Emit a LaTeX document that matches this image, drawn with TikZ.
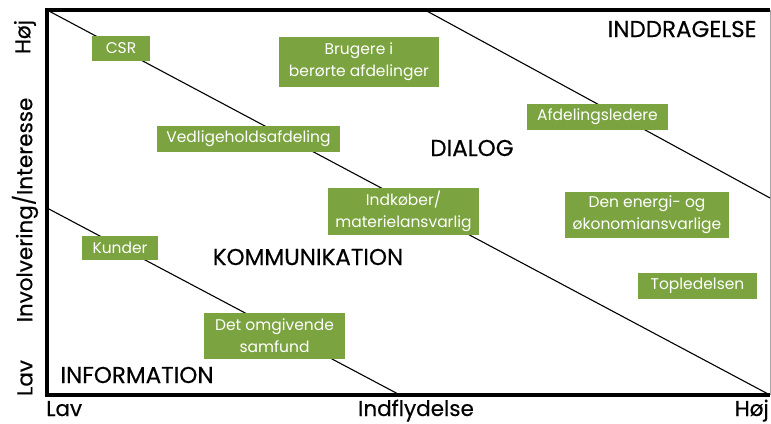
\documentclass[tikz,border=0pt]{standalone}
\usepackage{fontspec}
\setmainfont{Poppins}
\newfontfamily\medfont{Poppins}[FakeBold=0.4]
\usetikzlibrary{positioning}
\definecolor{leafgreen}{RGB}{123,163,64}

\begin{document}
\begin{tikzpicture}[x=1pt,y=-1pt,
  font=\fontsize{15.5}{22}\selectfont,
  grp/.style={fill=leafgreen,text=white,align=center,inner sep=2pt},
  zone/.style={font=\medfont\fontsize{23}{26}\selectfont},
  axlab/.style={font=\medfont\fontsize{21.5}{24}\selectfont,inner sep=0pt},
  axis/.style={line width=3.2pt},
  divider/.style={line width=1.1pt}]
  \useasboundingbox (0,0) rectangle (771,423);
  % frame and axes
  \coordinate (origin) at (47,395);
  \coordinate (topleft) at (47,10);
  \coordinate (topright) at (770,10);
  \coordinate (botright) at (770,395);
  \draw[gray!70,line width=0.8pt] (topright) -- (botright);
  \draw[axis] (topright) -- (topleft) -- (origin) -- (botright);
  % dividing lines
  \coordinate (upA) at (425,10);
  \coordinate (upB) at (770,198);
  \coordinate (lowA) at (47,208);
  \coordinate (lowB) at (400,395);
  \draw[divider] (upA) -- (upB);
  \draw[divider] (topleft) -- (botright);
  \draw[divider] (lowA) -- (lowB);
  % stakeholders
  \node[grp,minimum width=58pt,minimum height=25pt] (csr) at (121,48.5) {CSR};
  \node[grp,minimum width=160pt,minimum height=50pt] (brugere) at (359,62) {Brugere i\\ berørte afdelinger};
  \node[grp,minimum width=183pt,minimum height=26pt] (vedlige) at (248.5,139) {Vedligeholdsafdeling};
  \node[grp,minimum width=151pt,minimum height=47pt] (indkob) at (403.5,211.5) {Indkøber/\\ materielansvarlig};
  \node[grp,minimum width=141pt,minimum height=26pt] (afdl) at (597.5,117) {Afdelingsledere};
  \node[grp,minimum width=164pt,minimum height=46pt] (energi) at (647,215) {Den energi- og\\ økonomiansvarlige};
  \node[grp,minimum width=119pt,minimum height=26pt] (top) at (697.5,286) {Topledelsen};
  \node[grp,minimum width=76pt,minimum height=24pt] (kunder) at (120,248) {Kunder};
  \node[grp,minimum width=141pt,minimum height=46pt] (samfund) at (274.5,336) {Det omgivende\\ samfund};
  % zones
  \node[zone,anchor=east] (inddr) at (760,29) {INDDRAGELSE};
  \node[zone] (dialog) at (472,148) {DIALOG};
  \node[zone] (komm) at (308,257) {KOMMUNIKATION};
  \node[zone] (info) at (137,375) {INFORMATION};
  % axis labels
  \node[axlab,anchor=base west] (xlow) at (46,416) {Lav};
  \node[axlab,anchor=base] (xmid) at (416,416) {Indflydelse};
  \node[axlab,anchor=base east] (xhigh) at (769,416) {Høj};
  \node[axlab,rotate=90] (yhigh) at (25,37) {Høj};
  \node[axlab,rotate=90] (ymid) at (25,210) {Involvering/Interesse};
  \node[axlab,rotate=90] (ylow) at (25,378) {Lav};
\end{tikzpicture}
\end{document}
